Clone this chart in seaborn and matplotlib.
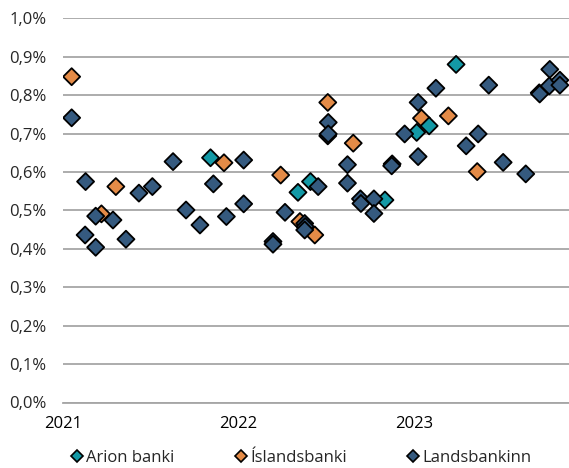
import pandas as pd
import numpy as np
import seaborn as sns
import matplotlib.pyplot as plt
import matplotlib.dates as mdates
from matplotlib.ticker import FuncFormatter
from matplotlib.lines import Line2D

# Data (value in %)
arion_dates = ['2021-11-04', '2022-05-05', '2022-05-31', '2022-11-02', '2023-01-07',
               '2023-02-02', '2023-03-30']
arion_vals = [0.637, 0.547, 0.575, 0.527, 0.703, 0.720, 0.880]

isb_dates = ['2021-01-19', '2021-03-22', '2021-04-21', '2021-12-02', '2022-03-30',
             '2022-05-09', '2022-06-09', '2022-07-06', '2022-08-28', '2023-01-17',
             '2023-03-14', '2023-05-13']
isb_vals = [0.848, 0.491, 0.562, 0.624, 0.592, 0.471, 0.436, 0.781, 0.675, 0.740,
            0.746, 0.601]

lands_dates = ['2021-01-19', '2021-02-17', '2021-02-16', '2021-03-10', '2021-03-10',
               '2021-04-15', '2021-05-12', '2021-06-08', '2021-07-06', '2021-08-18',
               '2021-09-14', '2021-10-13', '2021-11-10', '2021-12-07', '2022-01-12',
               '2022-01-12', '2022-03-14', '2022-03-14', '2022-04-08', '2022-05-19',
               '2022-05-20', '2022-05-19', '2022-06-16', '2022-07-07', '2022-07-06',
               '2022-07-07', '2022-08-16', '2022-08-16', '2022-09-12', '2022-09-13',
               '2022-10-10', '2022-10-10', '2022-11-17', '2022-11-16', '2022-12-13',
               '2023-01-10', '2023-01-10', '2023-02-16', '2023-04-20', '2023-05-15',
               '2023-06-06', '2023-07-06', '2023-08-22', '2023-09-19', '2023-09-20',
               '2023-10-11', '2023-10-10', '2023-11-01', '2023-11-01']
lands_vals = [0.741, 0.575, 0.436, 0.485, 0.404, 0.475, 0.425, 0.545, 0.562, 0.627,
              0.501, 0.462, 0.569, 0.484, 0.631, 0.517, 0.419, 0.412, 0.495, 0.466,
              0.458, 0.449, 0.562, 0.729, 0.694, 0.699, 0.619, 0.571, 0.530, 0.518,
              0.530, 0.492, 0.621, 0.616, 0.699, 0.640, 0.781, 0.818, 0.668, 0.699,
              0.826, 0.625, 0.595, 0.806, 0.803, 0.867, 0.824, 0.839, 0.826]

banks = ['Arion banki', 'Íslandsbanki', 'Landsbankinn']
colors = ['#1399A6', '#E48B47', '#355A7F']

# draw order: Íslandsbanki at the back, Landsbankinn on top
df = pd.concat([
    pd.DataFrame({'date': isb_dates, 'value': isb_vals, 'bank': banks[1]}),
    pd.DataFrame({'date': arion_dates, 'value': arion_vals, 'bank': banks[0]}),
    pd.DataFrame({'date': lands_dates, 'value': lands_vals, 'bank': banks[2]}),
], ignore_index=True)
df['date'] = pd.to_datetime(df['date'])

sns.set_style('white')
plt.rcParams['font.family'] = ['Open Sans', 'DejaVu Sans']

fig = plt.figure(figsize=(5.69, 4.68), dpi=100)
ax = fig.add_axes([63/569, 65.5/468, 506/569, 384.2/468])

sns.scatterplot(data=df, x='date', y='value', hue='bank', hue_order=banks,
                palette=colors, marker='D', s=75, edgecolor='black',
                linewidth=1.3, ax=ax, legend=False, zorder=3)

ax.set_ylim(0, 1.0)
ax.set_yticks(np.arange(0, 1.01, 0.1))
ax.yaxis.set_major_formatter(FuncFormatter(lambda v, p: f'{v:.1f}%'.replace('.', ',')))
ax.set_xlim(pd.Timestamp('2021-01-01'), pd.Timestamp('2023-11-20'))
ax.set_xticks(pd.to_datetime(['2021-01-01', '2022-01-01', '2023-01-01']))
ax.xaxis.set_major_formatter(mdates.DateFormatter('%Y'))
ax.grid(axis='y', color='#A6A6A6', linewidth=1.3)
ax.set_axisbelow(True)
for s in ['left', 'right', 'top']:
    ax.spines[s].set_visible(False)
ax.spines['bottom'].set_color('#A6A6A6')
ax.spines['bottom'].set_linewidth(1.3)
ax.tick_params(axis='x', colors='#A6A6A6', length=3.5, width=1.3, labelcolor='black',
               labelsize=12, pad=6)
ax.tick_params(axis='y', length=0, labelsize=12, pad=12)
ax.set_xlabel('')
ax.set_ylabel('')

handles = [Line2D([], [], marker='D', linestyle='', markersize=6.5, markerfacecolor=c,
                  markeredgecolor='black', markeredgewidth=1.2) for c in colors]
fig.legend(handles, banks, loc='center', bbox_to_anchor=(301/569, 10/468), ncol=3,
           frameon=False, fontsize=12, handletextpad=0.15, columnspacing=3.6,
           handlelength=0.8)

fig.savefig('out.png', dpi=100)
